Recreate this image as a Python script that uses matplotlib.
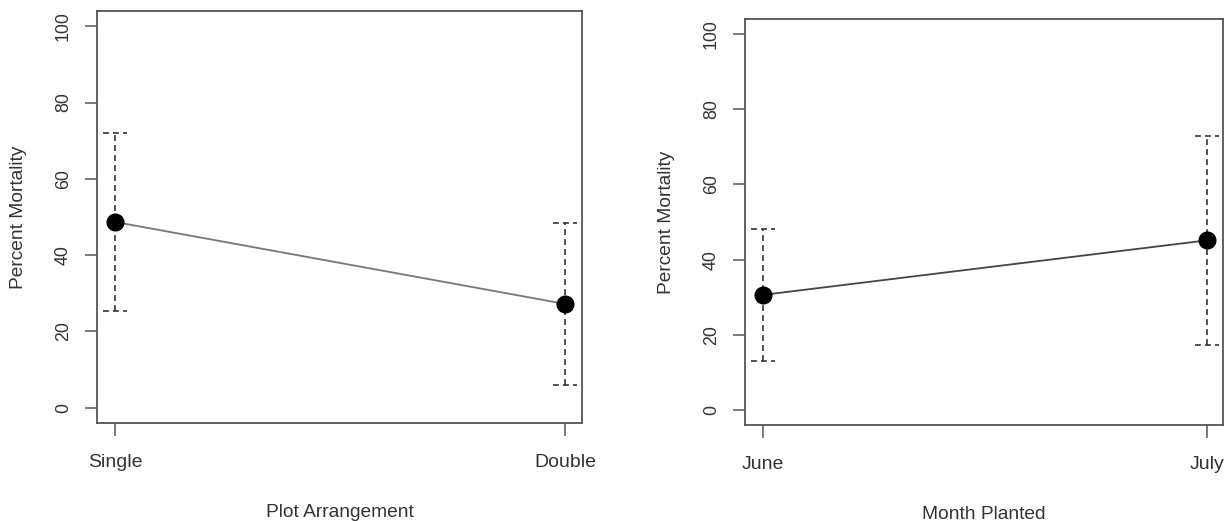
import matplotlib
matplotlib.use("Agg")
import matplotlib.pyplot as plt
import numpy as np

plt.rcParams['font.family'] = ['Liberation Sans', 'DejaVu Sans']

# left panel: plot arrangement
arr_labels = ["Single", "Double"]
arr_mean = [48.7, 27.2]
arr_lo = [25.3, 6.0]
arr_hi = [72.0, 48.3]

# right panel: month planted
month_labels = ["June", "July"]
month_mean = [30.6, 45.1]
month_lo = [12.9, 17.3]
month_hi = [48.2, 72.8]

txt = '#333333'
axc = '#555555'


def panel(ax, labels, mean, lo, hi, xlabel, linecol):
    x = np.arange(1, len(labels) + 1)
    ax.plot(x, mean, color=linecol, lw=1.3, zorder=2)
    ax.vlines(x, lo, hi, colors='#333333', linestyles=(0, (3.5, 2.5)), lw=1.2, zorder=1)
    hw = 0.027
    ax.hlines(lo, x - hw, x + hw, colors='#333333', linestyles=(0, (3.5, 2.5)), lw=1.2)
    ax.hlines(hi, x - hw, x + hw, colors='#333333', linestyles=(0, (3.5, 2.5)), lw=1.2)
    ax.plot(x, mean, 'o', color='black', ms=12, zorder=3)
    ax.set_xlim(0.96, 2.037)
    ax.set_ylim(-4, 104)
    ax.set_xticks(x)
    ax.set_xticklabels(labels)
    ax.set_yticks([0, 20, 40, 60, 80, 100])
    for lab in ax.get_yticklabels():
        lab.set_rotation(90)
        lab.set_va('center')
    for s in ax.spines.values():
        s.set_color(axc)
        s.set_linewidth(1.3)
    ax.tick_params(axis='both', length=9, width=1.1, color=axc, labelcolor=txt)
    ax.tick_params(axis='y', pad=9, labelsize=12.8)
    ax.tick_params(axis='x', pad=13, labelsize=14)
    ax.set_xlabel(xlabel, fontsize=13.8, color=txt, labelpad=24)
    ax.set_ylabel("Percent Mortality", fontsize=13.8, color=txt, labelpad=20)


fig = plt.figure(figsize=(12.25, 5.21), dpi=100)
ax1 = fig.add_axes([0.0792, 0.1881, 0.3959, 0.7908])
ax2 = fig.add_axes([0.6082, 0.1843, 0.3902, 0.7793])

panel(ax1, arr_labels, arr_mean, arr_lo, arr_hi, "Plot Arrangement", '#777777')
panel(ax2, month_labels, month_mean, month_lo, month_hi, "Month Planted", '#444444')

fig.savefig("out.png", dpi=100)
